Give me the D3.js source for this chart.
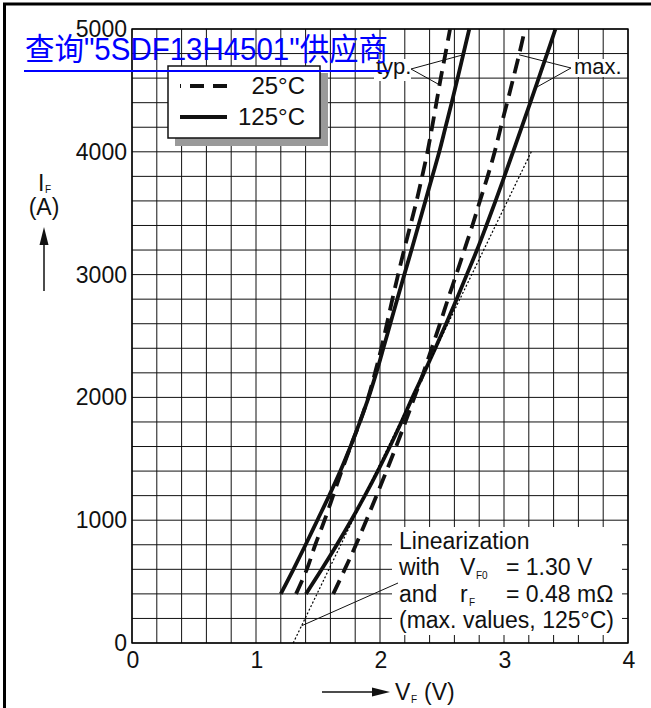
<!DOCTYPE html>
<html><head><meta charset="utf-8">
<script src="https://cdn.jsdelivr.net/npm/d3@7/dist/d3.min.js"></script>
<style>html,body{margin:0;padding:0;background:#fff;} svg{display:block;}</style>
</head><body>
<svg id="chart" width="651" height="708"></svg>
<script>
// Forward characteristic I_F = f(V_F), points as [V_F (V), I_F (A)]
const xTicks = [0, 1, 2, 3, 4];
const yTicks = [0, 1000, 2000, 3000, 4000, 5000];
const xGridStep = 0.2;
const yGridStep = 200;

const typ125 = [[1.20,400],[1.302,600],[1.40,800],[1.495,1000],[1.59,1200],[1.68,1400],
  [1.762,1600],[1.838,1800],[1.908,2000],[1.97,2200],[2.027,2400],[2.083,2600],[2.139,2800],
  [2.196,3000],[2.254,3200],[2.31,3400],[2.366,3600],[2.422,3800],[2.478,4000],[2.528,4200],
  [2.578,4400],[2.626,4600],[2.673,4800],[2.72,5000]];
const typ25 = [[1.323,400],[1.41,600],[1.478,800],[1.553,1000],[1.622,1200],[1.69,1400],
  [1.763,1600],[1.838,1800],[1.905,2000],[1.96,2200],[2.011,2400],[2.056,2600],[2.10,2800],
  [2.146,3000],[2.194,3200],[2.245,3400],[2.295,3600],[2.34,3800],[2.383,4000],[2.42,4200],
  [2.455,4400],[2.49,4600],[2.528,4800],[2.565,5000]];
const max125 = [[1.403,400],[1.53,600],[1.652,800],[1.768,1000],[1.878,1200],[1.982,1400],
  [2.08,1600],[2.173,1800],[2.262,2000],[2.355,2200],[2.446,2400],[2.533,2600],[2.618,2800],
  [2.70,3000],[2.782,3200],[2.858,3400],[2.932,3600],[3.003,3800],[3.073,4000],[3.143,4200],
  [3.212,4400],[3.28,4600],[3.348,4800],[3.415,5000]];
const max25 = [[1.623,400],[1.716,600],[1.806,800],[1.89,1000],[1.972,1200],[2.052,1400],
  [2.13,1600],[2.205,1800],[2.277,2000],[2.35,2200],[2.417,2400],[2.484,2600],[2.548,2800],
  [2.615,3000],[2.68,3200],[2.745,3400],[2.806,3600],[2.868,3800],[2.925,4000],[2.974,4200],
  [3.025,4400],[3.075,4600],[3.124,4800],[3.169,5000]];

// Linearization of the max. 125°C curve: V_F = V_F0 + r_F * I_F
const VF0 = 1.30;        // V
const rF = 0.48;         // mΩ
const linRange = [0, 4000];

const legendItems = [
  {label: "25°C", dashed: true},
  {label: "125°C", dashed: false}
];

const FONT = "'Liberation Sans', Arial, Helvetica, sans-serif";
const svg = d3.select("#chart");

const x = d3.scaleLinear().domain([0, 4]).range([132, 628]);
const y = d3.scaleLinear().domain([0, 5000]).range([643, 29]);

// outer frame (top and left edges)
svg.append("path").attr("d", "M4.5,708 V4 H651")
  .attr("fill", "none").attr("stroke", "#000").attr("stroke-width", 3);

// grid
const grid = svg.append("g").attr("stroke", "#111").attr("stroke-width", 1);
d3.range(0, 4 + 1e-9, xGridStep).forEach(v => {
  grid.append("line").attr("x1", x(v)).attr("x2", x(v)).attr("y1", y(0)).attr("y2", y(5000));
});
d3.range(0, 5000 + 1e-9, yGridStep).forEach(v => {
  grid.append("line").attr("x1", x(0)).attr("x2", x(4)).attr("y1", y(v)).attr("y2", y(v));
});

// white panel for the linearization note
svg.append("rect").attr("x", 392).attr("y", 527).attr("width", 230).attr("height", 108)
  .attr("fill", "#fff");

// plot frame
svg.append("rect").attr("x", x(0)).attr("y", y(5000))
  .attr("width", x(4) - x(0)).attr("height", y(0) - y(5000))
  .attr("fill", "none").attr("stroke", "#000").attr("stroke-width", 1.4);

// tick labels
svg.append("g").selectAll("text").data(yTicks).join("text")
  .attr("x", 127).attr("y", d => y(d) + 8)
  .attr("text-anchor", "end").attr("font-family", FONT).attr("font-size", 23)
  .attr("fill", "#111").text(d => d);
svg.append("g").selectAll("text").data(xTicks).join("text")
  .attr("x", d => x(d) + 1).attr("y", 668)
  .attr("text-anchor", "middle").attr("font-family", FONT).attr("font-size", 23)
  .attr("fill", "#111").text(d => d);

// curves
const line = d3.line().x(d => x(d[0])).y(d => y(d[1])).curve(d3.curveCatmullRom.alpha(0.5));
const curves = [
  {data: typ25, dashed: true},
  {data: max25, dashed: true},
  {data: typ125, dashed: false},
  {data: max125, dashed: false}
];
svg.append("g").selectAll("path").data(curves).join("path")
  .attr("d", d => line(d.data))
  .attr("fill", "none").attr("stroke", "#111").attr("stroke-width", 3.8)
  .attr("stroke-dasharray", d => d.dashed ? "15,8" : null);

// linearization (dotted)
svg.append("path")
  .attr("d", d3.line().x(i => x(VF0 + rF * i / 1000)).y(i => y(i))(linRange))
  .attr("fill", "none").attr("stroke", "#000").attr("stroke-width", 1.2)
  .attr("stroke-dasharray", "2,2");

// interpolate V_F of a curve at current I
function vAt(series, I) {
  for (let k = 1; k < series.length; k++) {
    if (I <= series[k][1]) {
      const [v0, i0] = series[k - 1], [v1, i1] = series[k];
      return v0 + (v1 - v0) * (I - i0) / (i1 - i0);
    }
  }
  return series[series.length - 1][0];
}

// leader lines
const leaders = svg.append("g").attr("stroke", "#111").attr("stroke-width", 1).attr("fill", "none");
function leader(ax, ay, targets) {
  targets.forEach(([s, I]) => {
    leaders.append("line").attr("x1", ax).attr("y1", ay)
      .attr("x2", x(vAt(s, I))).attr("y2", y(I));
  });
}
// label backgrounds
svg.append("rect").attr("x", 374).attr("y", 59).attr("width", 37).attr("height", 22).attr("fill", "#fff");
svg.append("rect").attr("x", 572).attr("y", 59).attr("width", 55).attr("height", 18).attr("fill", "#fff");
leader(411, 69, [[typ125, 4790], [typ25, 4545]]);
leader(571, 68, [[max25, 4790], [max125, 4520]]);
const linI0 = 140;
leaders.append("line").attr("x1", 398).attr("y1", 583)
  .attr("x2", x(VF0 + rF * linI0 / 1000)).attr("y2", y(linI0));

svg.append("text").attr("x", 376).attr("y", 74).attr("font-family", FONT).attr("font-size", 22)
  .attr("fill", "#111").text("typ.");
svg.append("text").attr("x", 574).attr("y", 74).attr("font-family", FONT).attr("font-size", 22)
  .attr("fill", "#111").text("max.");

// linearization note
const note = svg.append("g").attr("font-family", FONT).attr("font-size", 23).attr("fill", "#111");
note.append("text").attr("x", 399).attr("y", 549).text("Linearization");
note.append("text").attr("x", 399).attr("y", 575).text("with");
note.append("text").attr("x", 460).attr("y", 575).text("V");
note.append("text").attr("x", 476).attr("y", 579).attr("font-size", 10).text("F0");
note.append("text").attr("x", 506).attr("y", 575).text(`= ${VF0.toFixed(2)} V`);
note.append("text").attr("x", 399).attr("y", 602).text("and");
note.append("text").attr("x", 460).attr("y", 602).text("r");
note.append("text").attr("x", 469).attr("y", 606).attr("font-size", 10).text("F");
note.append("text").attr("x", 506).attr("y", 602).text(`= ${rF.toFixed(2)} mΩ`);
note.append("text").attr("x", 399).attr("y", 628).text("(max. values, 125°C)");

// axis titles
const yt = svg.append("g").attr("font-family", FONT).attr("fill", "#111");
yt.append("text").attr("x", 38).attr("y", 191).attr("font-size", 23).text("I");
yt.append("text").attr("x", 45).attr("y", 193).attr("font-size", 10).text("F");
yt.append("text").attr("x", 44).attr("y", 215).attr("font-size", 23).attr("text-anchor", "middle").text("(A)");
yt.append("line").attr("x1", 44).attr("x2", 44).attr("y1", 291).attr("y2", 240)
  .attr("stroke", "#111").attr("stroke-width", 1.5);
yt.append("path").attr("d", "M44,227 L39.5,245 L48.5,245 Z").attr("fill", "#111");

const xt = svg.append("g").attr("font-family", FONT).attr("fill", "#111");
xt.append("line").attr("x1", 322).attr("x2", 376).attr("y1", 692).attr("y2", 692)
  .attr("stroke", "#111").attr("stroke-width", 1.5);
xt.append("path").attr("d", "M390,692 L372,687.5 L372,696.5 Z").attr("fill", "#111");
xt.append("text").attr("x", 395).attr("y", 700).attr("font-size", 23).text("V");
xt.append("text").attr("x", 411).attr("y", 703).attr("font-size", 10).text("F");
xt.append("text").attr("x", 424).attr("y", 700).attr("font-size", 23).text("(V)");

// legend
const lg = svg.append("g");
lg.append("rect").attr("x", 175).attr("y", 73).attr("width", 153).attr("height", 73).attr("fill", "#9a9a9a");
lg.append("rect").attr("x", 168).attr("y", 66).attr("width", 152).attr("height", 72)
  .attr("fill", "#fff").attr("stroke", "#111").attr("stroke-width", 1.5);
legendItems.forEach((it, i) => {
  const ly = 86 + i * 31;
  lg.append("line").attr("x1", 180).attr("x2", 227).attr("y1", ly).attr("y2", ly)
    .attr("stroke", "#111").attr("stroke-width", 4)
    .attr("stroke-dasharray", it.dashed ? "14,9" : null)
    .attr("stroke-dashoffset", it.dashed ? 13 : null);
  lg.append("text").attr("x", 305).attr("y", ly + 8).attr("text-anchor", "end")
    .attr("font-family", FONT).attr("font-size", 24).attr("fill", "#111").text(it.label);
});

// supplier link
const link = svg.append("a").attr("href", "#");
link.append("text").attr("x", 25).attr("y", 60)
  .attr("font-family", "'Liberation Sans', 'Noto Sans CJK SC', sans-serif")
  .attr("font-size", 31).attr("fill", "#0000ff")
  .attr("textLength", 363).attr("lengthAdjust", "spacingAndGlyphs")
  .text("查询\"5SDF13H4501\"供应商");
link.append("line").attr("x1", 24).attr("x2", 389).attr("y1", 71).attr("y2", 71)
  .attr("stroke", "#0000ff").attr("stroke-width", 2.2);
</script>
</body></html>
